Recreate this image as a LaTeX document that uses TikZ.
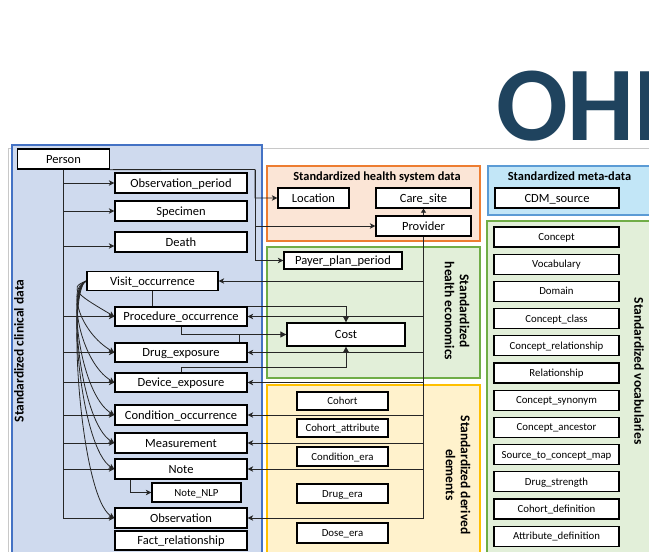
\documentclass[tikz,border=0pt]{standalone}
\usepackage{fontspec}
\setmainfont{Carlito}
\usetikzlibrary{arrows.meta,calc}
\definecolor{titleblue}{RGB}{31,67,94}
\definecolor{clinfill}{RGB}{207,218,238}
\definecolor{clinedge}{RGB}{68,114,196}
\definecolor{hsfill}{RGB}{251,229,214}
\definecolor{hsedge}{RGB}{237,125,49}
\definecolor{grfill}{RGB}{226,239,217}
\definecolor{gredge}{RGB}{112,173,71}
\definecolor{yefill}{RGB}{255,242,204}
\definecolor{yeedge}{RGB}{255,192,0}
\definecolor{mdfill}{RGB}{194,230,247}
\definecolor{mdedge}{RGB}{91,155,213}
\definecolor{rulegray}{RGB}{200,200,200}
\pgfdeclarelayer{panels}
\pgfdeclarelayer{links}
\pgfsetlayers{panels,links,main}
\tikzset{
  tbl/.style={draw=black, line width=1.3pt, fill=white, inner sep=0pt, minimum height=20pt},
  bigtbl/.style={tbl, font=\fontsize{12.5}{14}\selectfont, text height=11pt, text depth=3pt},
  smalltbl/.style={tbl, font=\fontsize{10.8}{13}\selectfont, text height=9.5pt, text depth=2.5pt},
  panel/.style={line width=1.3pt},
  head/.style={font=\fontsize{12.4}{14}\selectfont\bfseries, inner sep=0pt, anchor=base},
  side/.style={font=\fontsize{13.5}{15}\selectfont\bfseries, inner sep=0pt, align=center},
  link/.style={line width=0.8pt, draw=black!85},
  arr/.style={link, -{Stealth[length=5.5pt,width=5.5pt,inset=1.5pt]}},
  costarr/.style={link, -{Triangle[length=6pt,width=6pt]}},
}
\begin{document}
\begin{tikzpicture}[x=1pt,y=-1pt]
\useasboundingbox (0,0) rectangle (649,552);

% heading, running off the right edge
\begin{scope}
  \clip (0,0) rectangle (649,552);
  \node[anchor=base west, inner sep=0pt, text=titleblue,
        font=\fontsize{106}{110}\selectfont\bfseries] (title) at (496,140) {OHDSI};
\end{scope}

% coloured domain panels
\begin{pgfonlayer}{panels}
  \draw[rulegray, line width=0.8pt] (8,148.5) -- (649,148.5);
  \draw[rulegray, line width=0.8pt] (8,148.5) -- (8,552);
  \draw[panel, draw=clinedge, fill=clinfill] (12,145) rectangle (262,560);
  \draw[panel, draw=hsedge, fill=hsfill] (267,166) rectangle (480,241);
  \draw[panel, draw=gredge, fill=grfill] (267,247) rectangle (480,378);
  \draw[panel, draw=yeedge, fill=yefill] (267,385) rectangle (480,560);
  \draw[panel, draw=mdedge, fill=mdfill] (488,166) rectangle (660,215);
  \draw[panel, draw=gredge, fill=grfill] (487,221) rectangle (660,560);
\end{pgfonlayer}

% panel captions
\node[side, rotate=90] (lclin) at (19,351) {Standardized clinical data};
\node[head] (lhs) at (377,180) {Standardized health system data};
\node[side, rotate=-90] (lhe) at (457,311) {Standardized\\health economics};
\node[side, rotate=-90] (lde) at (458,475) {Standardized derived\\elements};
\node[head] (lmd) at (569.5,180.5) {Standardized meta-data};
\node[side, rotate=-90] (lvo) at (639,371) {Standardized vocabularies};

% clinical data tables
\node[bigtbl, minimum width=92pt] (person) at (63.5,159) {Person};
\node[bigtbl, minimum width=132pt] (obsp) at (181,183) {Observation\_period};
\node[bigtbl, minimum width=132pt] (spec) at (181,211) {Specimen};
\node[bigtbl, minimum width=132pt] (death) at (181,242) {Death};
\node[bigtbl, minimum width=131pt, minimum height=19pt] (visit) at (152.5,281) {Visit\_occurrence};
\node[bigtbl, minimum width=132pt, minimum height=19pt] (proc) at (181,316.5) {Procedure\_occurrence};
\node[bigtbl, minimum width=132pt, minimum height=19pt] (drug) at (181,352.5) {Drug\_exposure};
\node[bigtbl, minimum width=132pt, minimum height=19pt] (device) at (181,382.5) {Device\_exposure};
\node[bigtbl, minimum width=132pt] (cond) at (181,415) {Condition\_occurrence};
\node[bigtbl, minimum width=132pt] (meas) at (181,443) {Measurement};
\node[bigtbl, minimum width=132pt] (note) at (181,469) {Note};
\node[smalltbl, minimum width=89pt, minimum height=19pt] (nlp) at (196.5,492.5) {Note\_NLP};
\node[bigtbl, minimum width=132pt] (obs) at (181,518) {Observation};
\node[bigtbl, minimum width=132pt, minimum height=19pt] (fact) at (181,540.5) {Fact\_relationship};

% health system and economics tables
\node[bigtbl, minimum width=71pt] (location) at (313.5,198) {Location};
\node[bigtbl, minimum width=95pt] (care) at (423.5,198) {Care\_site};
\node[bigtbl, minimum width=95pt] (provider) at (423.5,226) {Provider};
\node[bigtbl, minimum width=118pt, minimum height=17pt] (payer) at (343,260.5) {Payer\_plan\_period};
\node[bigtbl, minimum width=118pt, minimum height=23pt] (cost) at (346,334.5) {Cost};

% derived elements
\node[smalltbl, minimum width=91pt, minimum height=18pt] (cohort) at (342.5,401) {Cohort};
\node[smalltbl, minimum width=91pt, minimum height=18pt] (cattr) at (342.5,428) {Cohort\_attribute};
\node[smalltbl, minimum width=91pt, minimum height=19pt] (cera) at (342.5,456.5) {Condition\_era};
\node[smalltbl, minimum width=91pt, minimum height=19pt] (dera) at (342.5,493.5) {Drug\_era};
\node[smalltbl, minimum width=91pt] (dose) at (342.5,533) {Dose\_era};

% meta-data and vocabularies
\node[bigtbl, minimum width=124pt] (cdm) at (557,198) {CDM\_source};
\foreach \name/\txt [count=\i from 0] in {concept/Concept, vocabulary/Vocabulary,
    domain/Domain, cclass/Concept\_class, crel/Concept\_relationship,
    rel/Relationship, csyn/Concept\_synonym, canc/Concept\_ancestor,
    s2c/Source\_to\_concept\_map, dstr/Drug\_strength,
    cdef/Cohort\_definition, adef/Attribute\_definition}
  \node[smalltbl, minimum width=125pt] (\name) at (556.5,{237+27.2*\i}) {\txt};

% relationships
\begin{pgfonlayer}{links}
  % person is referenced by every clinical event table
  \foreach \t in {obsp,spec,proc,drug,device,cond,meas,note,obs}
    \draw[arr] (person.south) |- (\t.west);
  \draw[arr] (person.south) |- ([yshift=-4pt]death.west);

  % visits group the clinical events
  \foreach \t in {proc,drug,device,cond,meas,note,obs}
    \draw[arr] (visit.west) .. controls (66,288) and ($(\t.west)+(-34,-20)$) .. (\t.west);

  % person to health system and payer
  \coordinate (pj) at (255,169.5);
  \draw[arr] (person.south east) -- (pj) |- (location.west);
  \draw[arr] (pj) |- (provider.west);
  \draw[arr] (pj) |- (payer.west);
  \draw[link, -{Triangle[length=4pt,width=5pt]}] (provider.north) -- (care.south);

  % provider is referenced by the clinical events
  \foreach \t in {visit,proc,drug,device,cond,meas,note,obs}
    \draw[arr] (provider.south) |- (\t.east);

  % costs of visits, procedures, drugs and devices
  \draw[costarr] (visit.south) |- (cost.north |- proc.north) -- (cost.north);
  \draw[costarr] (proc.south) |- (cost.west);
  \draw[link] ([xshift=58pt]drug.north) -- ([xshift=58pt]drug.north |- cost.west);
  \draw[costarr] (device.north) -- ++(0,-5) -| (cost.south);

  % note to its NLP output
  \draw[arr] ([xshift=-51pt]note.south) |- (nlp.west);
\end{pgfonlayer}
\end{tikzpicture}
\end{document}
